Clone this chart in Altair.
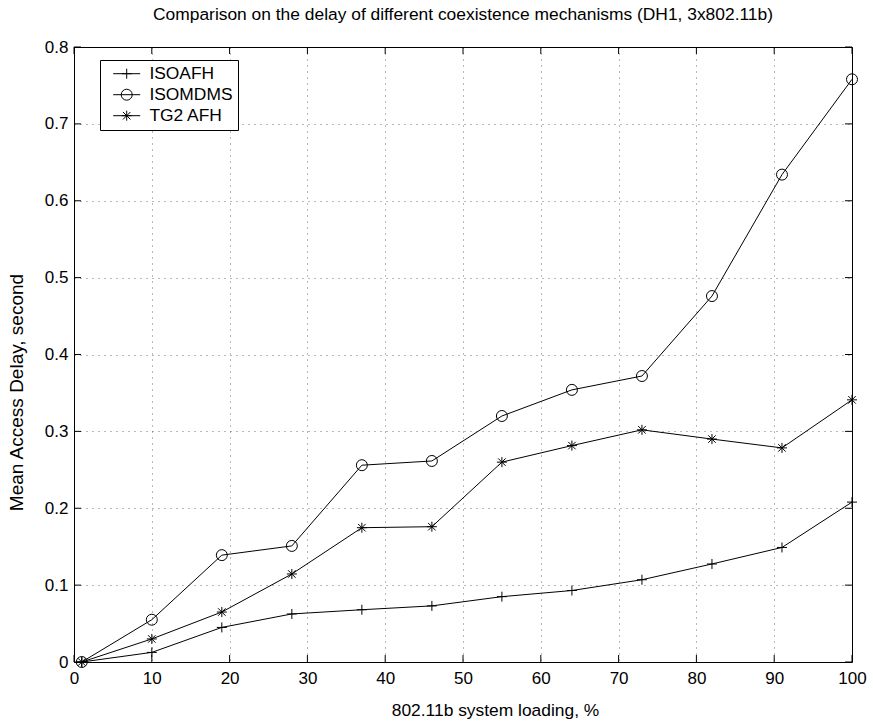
import altair as alt
import pandas as pd

# ---- data ----
loading = [1, 10, 19, 28, 37, 46, 55, 64, 73, 82, 91, 100]
isoafh = [0.0, 0.0125, 0.045, 0.0625, 0.068, 0.073, 0.085, 0.093, 0.107, 0.1275, 0.149, 0.208]
isomdms = [0.0, 0.055, 0.139, 0.151, 0.256, 0.2615, 0.320, 0.354, 0.372, 0.476, 0.634, 0.758]
tg2afh = [0.0, 0.030, 0.065, 0.1145, 0.1747, 0.176, 0.260, 0.2815, 0.302, 0.290, 0.2785, 0.341]
series_names = ["ISOAFH", "ISOMDMS", "TG2 AFH"]
x_ticks = [0, 10, 20, 30, 40, 50, 60, 70, 80, 90, 100]
y_ticks = [0, 0.1, 0.2, 0.3, 0.4, 0.5, 0.6, 0.7, 0.8]

rows = []
for name, vals in zip(series_names, [isoafh, isomdms, tg2afh]):
    for xv, yv in zip(loading, vals):
        rows.append({"loading": xv, "delay": yv, "series": name})
df = pd.DataFrame(rows)

FONT = "Liberation Sans"

# marker shapes (unit square paths)
plus = "M-1,0L1,0M0,-1L0,1"
circle = "M1.1,0A1.1,1.1,0,1,1,-1.1,0A1.1,1.1,0,1,1,1.1,0Z"
star = "M-1,0L1,0M0,-1L0,1M-0.75,-0.75L0.75,0.75M-0.75,0.75L0.75,-0.75"
marker_paths = [plus, circle, star]
seg = "M-2.7,0L2.7,0"
legend_paths = [seg + plus, seg + circle, seg + star]

xscale = alt.Scale(domain=[0, 100], nice=False, zero=False)
yscale = alt.Scale(domain=[0, 0.8], nice=False)

xaxis = alt.Axis(values=x_ticks, title="802.11b system loading, %", grid=True, ticks=False,
                 domain=False, labelPadding=8, titlePadding=15, labelFlush=False,
                 titleX=421, titleFontSize=17.4)
yaxis = alt.Axis(values=y_ticks, title="Mean Access Delay, second", grid=True, ticks=False,
                 domain=False, labelPadding=6, titlePadding=18, format="~g",
                 titleY=345, titleFontSize=19)

X = alt.X("loading:Q", scale=xscale, axis=xaxis)
Y = alt.Y("delay:Q", scale=yscale, axis=yaxis)

base = alt.Chart(df)

lines = base.mark_line(color="black", strokeWidth=1).encode(x=X, y=Y, detail="series:N")

points = base.mark_point(filled=False, color="black", size=100, strokeWidth=1, opacity=1).encode(
    x=X, y=Y,
    shape=alt.Shape("series:N", scale=alt.Scale(domain=series_names, range=marker_paths), legend=None),
)

legend_layer = base.transform_filter("false").mark_point(
    filled=False, color="black", size=100, strokeWidth=1, opacity=1
).encode(
    x=X, y=Y,
    shape=alt.Shape(
        "series:N",
        scale=alt.Scale(domain=series_names, range=legend_paths),
        legend=alt.Legend(
            title=None, orient="none", legendX=26, legendY=13,
            strokeColor="black", fillColor="white", padding=5,
            symbolSize=100, symbolOffset=13, labelOffset=14,
            symbolStrokeColor="black", symbolFillColor="transparent", symbolStrokeWidth=1,
            labelFont=FONT, labelFontSize=17.4, labelColor="black", rowPadding=2,
        ),
    ),
)

# inward tick marks (MATLAB style)
TX = 0.9      # tick length in x units
TY = 0.0091   # tick length in y units
xt = pd.DataFrame({"loading": x_ticks})
yt = pd.DataFrame({"delay": y_ticks})
tick_style = dict(color="black", strokeWidth=1)
bottom_ticks = alt.Chart(xt).mark_rule(**tick_style).encode(x=X, y=alt.YDatum(0), y2=alt.Y2Datum(TY))
top_ticks = alt.Chart(xt).mark_rule(**tick_style).encode(x=X, y=alt.YDatum(0.8), y2=alt.Y2Datum(0.8 - TY))
left_ticks = alt.Chart(yt).mark_rule(**tick_style).encode(y=Y, x=alt.XDatum(0), x2=alt.X2Datum(TX))
right_ticks = alt.Chart(yt).mark_rule(**tick_style).encode(y=Y, x=alt.XDatum(100), x2=alt.X2Datum(100 - TX))

chart = alt.layer(
    lines, points, bottom_ticks, top_ticks, left_ticks, right_ticks, legend_layer
).resolve_scale(shape="independent").properties(
    width=778, height=615, autosize="none",
    padding={"left": 74, "top": 47, "right": 21, "bottom": 63},
    title=alt.TitleParams(
        text="Comparison on the delay of different coexistence mechanisms (DH1, 3x802.11b)",
        font=FONT, fontSize=17.4, fontWeight="normal", color="black", anchor="middle", offset=15,
    ),
).configure_view(
    stroke="black", strokeWidth=1
).configure_axis(
    labelFont=FONT, titleFont=FONT, labelFontSize=17, titleFontSize=17.4,
    labelColor="black", titleColor="black", titleFontWeight="normal",
    gridColor="#000000", gridOpacity=0.55, gridDash=[1, 5], gridWidth=1,
)

chart.save("out.html", embed_options={"renderer": "svg", "actions": False})
